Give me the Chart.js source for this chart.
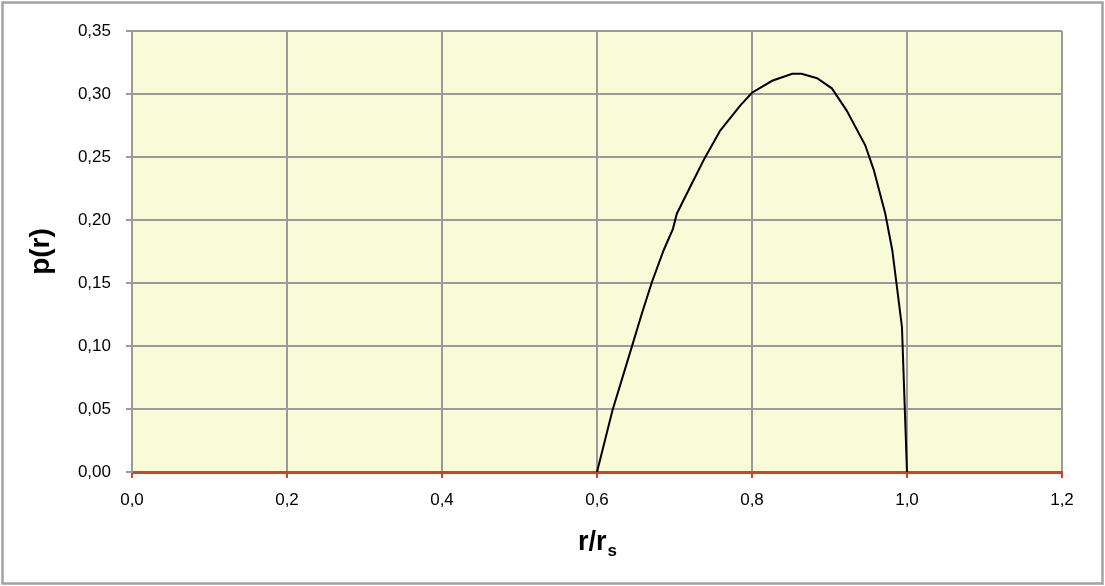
<!DOCTYPE html>
<html lang="de">
<head>
    <meta charset="UTF-8">
    <title>p(r)</title>
    <style>
        body {
            margin: 0;
            padding: 0;
            background: white;
        }
        .chart-box {
            width: 1105px;
            height: 586px;
        }
    </style>
</head>
<body>
    <div class="chart-box">
        <canvas id="pChart" width="1105" height="586"></canvas>
    </div>

    <script src="https://cdn.jsdelivr.net/npm/chart.js"></script>
    <script>
        // values
        const rValues = [0.60, 0.62, 0.645, 0.658, 0.671, 0.686, 0.698, 0.703, 0.72, 0.738, 0.759, 0.785,
                         0.80, 0.826, 0.852, 0.864, 0.884, 0.903, 0.922, 0.946, 0.957, 0.972, 0.981,
                         0.987, 0.9935, 1.0];
        const pValues = [0, 0.049, 0.0995, 0.126, 0.151, 0.176, 0.193, 0.205, 0.226, 0.248, 0.271, 0.291,
                         0.301, 0.3105, 0.316, 0.316, 0.3125, 0.3045, 0.287, 0.2595, 0.24, 0.205, 0.176,
                         0.147, 0.115, 0];
        const xTicks = [0, 0.2, 0.4, 0.6, 0.8, 1.0, 1.2];
        const yTicks = [0, 0.05, 0.10, 0.15, 0.20, 0.25, 0.30, 0.35];

        const points = rValues.map((r, i) => ({ x: r, y: pValues[i] }));

        const gridGray = '#9a9a9a';
        const axisRed = '#d9411e';
        const tickFont = { family: 'Liberation Sans', size: 17 };

        // white page, plot background and outer frame
        const framePlugin = {
            id: 'frame',
            beforeDraw(chart) {
                const ctx = chart.ctx;
                const a = chart.chartArea;
                ctx.save();
                ctx.fillStyle = 'white';
                ctx.fillRect(0, 0, chart.width, chart.height);
                ctx.fillStyle = '#f8fbd8';
                ctx.fillRect(a.left, a.top, a.right - a.left, a.bottom - a.top);
                ctx.strokeStyle = '#a3a3a3';
                ctx.lineWidth = 2.5;
                ctx.strokeRect(2.5, 2.5, chart.width - 5, chart.height - 5);
                ctx.restore();
            },
            afterDraw(chart) {
                // x title with subscript s
                const ctx = chart.ctx;
                const a = chart.chartArea;
                const big = 'bold 27px "Liberation Sans"';
                const small = 'bold 17px "Liberation Sans"';
                ctx.save();
                ctx.fillStyle = 'black';
                ctx.textBaseline = 'alphabetic';
                ctx.font = big;
                const w1 = ctx.measureText('r/r').width;
                ctx.font = small;
                const w2 = ctx.measureText('s').width;
                const x0 = (a.left + a.right) / 2 - (w1 + w2) / 2;
                const base = 550;
                ctx.font = big;
                ctx.fillText('r/r', x0, base);
                ctx.font = small;
                ctx.fillText('s', x0 + w1 + 1, base + 6);
                ctx.restore();
            }
        };

        new Chart(document.getElementById('pChart'), {
            type: 'line',
            data: {
                datasets: [{
                    label: 'p(r)',
                    data: points,
                    borderColor: 'black',
                    borderWidth: 2,
                    pointRadius: 0,
                    tension: 0,
                    fill: false
                }]
            },
            options: {
                responsive: false,
                animation: false,
                layout: { padding: { left: 0, top: 31, right: 43, bottom: 0 } },
                plugins: {
                    legend: { display: false },
                    tooltip: { enabled: false }
                },
                scales: {
                    x: {
                        type: 'linear',
                        min: 0,
                        max: 1.2,
                        afterBuildTicks: (scale) => { scale.ticks = xTicks.map(v => ({ value: v })); },
                        afterFit: (scale) => { scale.height = 114; },
                        ticks: {
                            color: 'black',
                            font: tickFont,
                            padding: 12,
                            maxRotation: 0,
                            callback: (v) => v.toFixed(1).replace('.', ',')
                        },
                        grid: {
                            color: gridGray,
                            lineWidth: 2,
                            tickColor: axisRed,
                            tickLength: 6
                        },
                        border: { color: axisRed, width: 3 }
                    },
                    y: {
                        min: 0,
                        max: 0.35,
                        afterBuildTicks: (scale) => { scale.ticks = yTicks.map(v => ({ value: v })); },
                        afterFit: (scale) => { scale.width = 132; },
                        ticks: {
                            color: 'black',
                            font: tickFont,
                            padding: 15,
                            callback: (v) => v.toFixed(2).replace('.', ',')
                        },
                        grid: {
                            color: gridGray,
                            lineWidth: 2,
                            tickColor: gridGray,
                            tickLength: 6
                        },
                        border: { color: gridGray, width: 2 },
                        title: {
                            display: true,
                            text: 'p(r)',
                            color: 'black',
                            font: { family: 'Liberation Sans', size: 28, weight: 'bold' },
                            padding: { top: 24, bottom: 0 }
                        }
                    }
                }
            },
            plugins: [framePlugin]
        });
    </script>
</body>
</html>
